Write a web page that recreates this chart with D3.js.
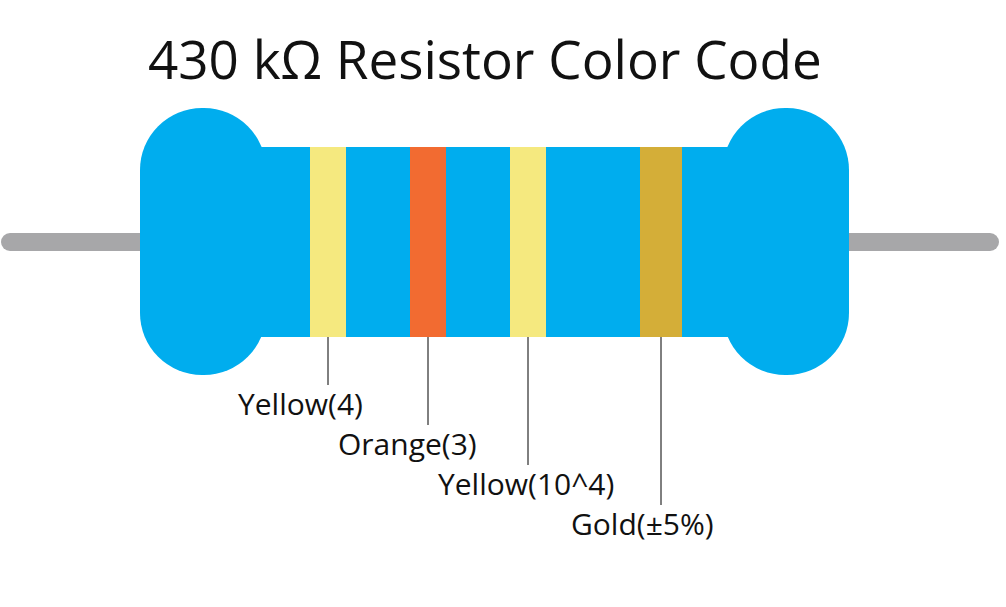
<!DOCTYPE html>
<html><head><meta charset="utf-8">
<script src="https://cdn.jsdelivr.net/npm/d3@7"></script>
<style>body{margin:0;background:#fff}svg{display:block}text{font-family:"Open Sans",sans-serif}</style>
</head><body>
<script>
// band data: name, colour, where it sits along the body (0..100)
var bandNames = ['Yellow(4)', 'Orange(3)', 'Yellow(10^4)', 'Gold(\u00b15%)'];
var bandColors = ['#f5e97f', '#f26b31', '#f5e97f', '#d4ae38'];
var bandPos = [0, 100, 200, 330];
var bandWidth = [36, 36, 36, 42];
var title = '430 k\u03a9 Resistor Color Code';

var svg = d3.select('body').append('svg').attr('width', 1006).attr('height', 607);
var x = d3.scaleLinear().domain([0, 100]).range([310, 410]);

// leads
svg.append('line').attr('x1', 10).attr('x2', 990).attr('y1', 242).attr('y2', 242)
    .attr('stroke', '#a7a7a9').attr('stroke-width', 18).attr('stroke-linecap', 'round');

var blue = '#00adee';
svg.append('rect').attr('x', 140).attr('y', 108).attr('width', 126).attr('height', 267)
    .attr('rx', 62).attr('fill', blue);
svg.append('rect').attr('x', 723).attr('y', 108).attr('width', 126).attr('height', 267)
    .attr('rx', 62).attr('fill', blue);
svg.append('rect').attr('x', 230).attr('y', 147).attr('width', 530).attr('height', 190).attr('fill', blue);

var g = svg.selectAll('g.band').data(bandNames).enter().append('g').attr('class', 'band');
g.append('rect')
    .attr('x', function(d, i) { return x(bandPos[i]); })
    .attr('y', 147).attr('height', 190)
    .attr('width', function(d, i) { return bandWidth[i]; })
    .attr('fill', function(d, i) { return bandColors[i]; });
g.append('line')
    .attr('x1', function(d, i) { return x(bandPos[i]) + bandWidth[i] / 2; })
    .attr('x2', function(d, i) { return x(bandPos[i]) + bandWidth[i] / 2; })
    .attr('y1', 337).attr('y2', function(d, i) { return 385 + i * 40; })
    .attr('stroke', '#000').attr('stroke-width', 1);
g.append('text')
    .attr('x', function(d, i) { return x(bandPos[i]) + bandWidth[i] / 2 - 90; })
    .attr('y', function(d, i) { return 415 + i * 40; })
    .attr('font-size', 30).attr('fill', '#111')
    .text(function(d) { return d; });

svg.append('text').attr('x', 148).attr('y', 79).attr('font-size', 53).attr('fill', '#111').text(title);
</script>
</body></html>
